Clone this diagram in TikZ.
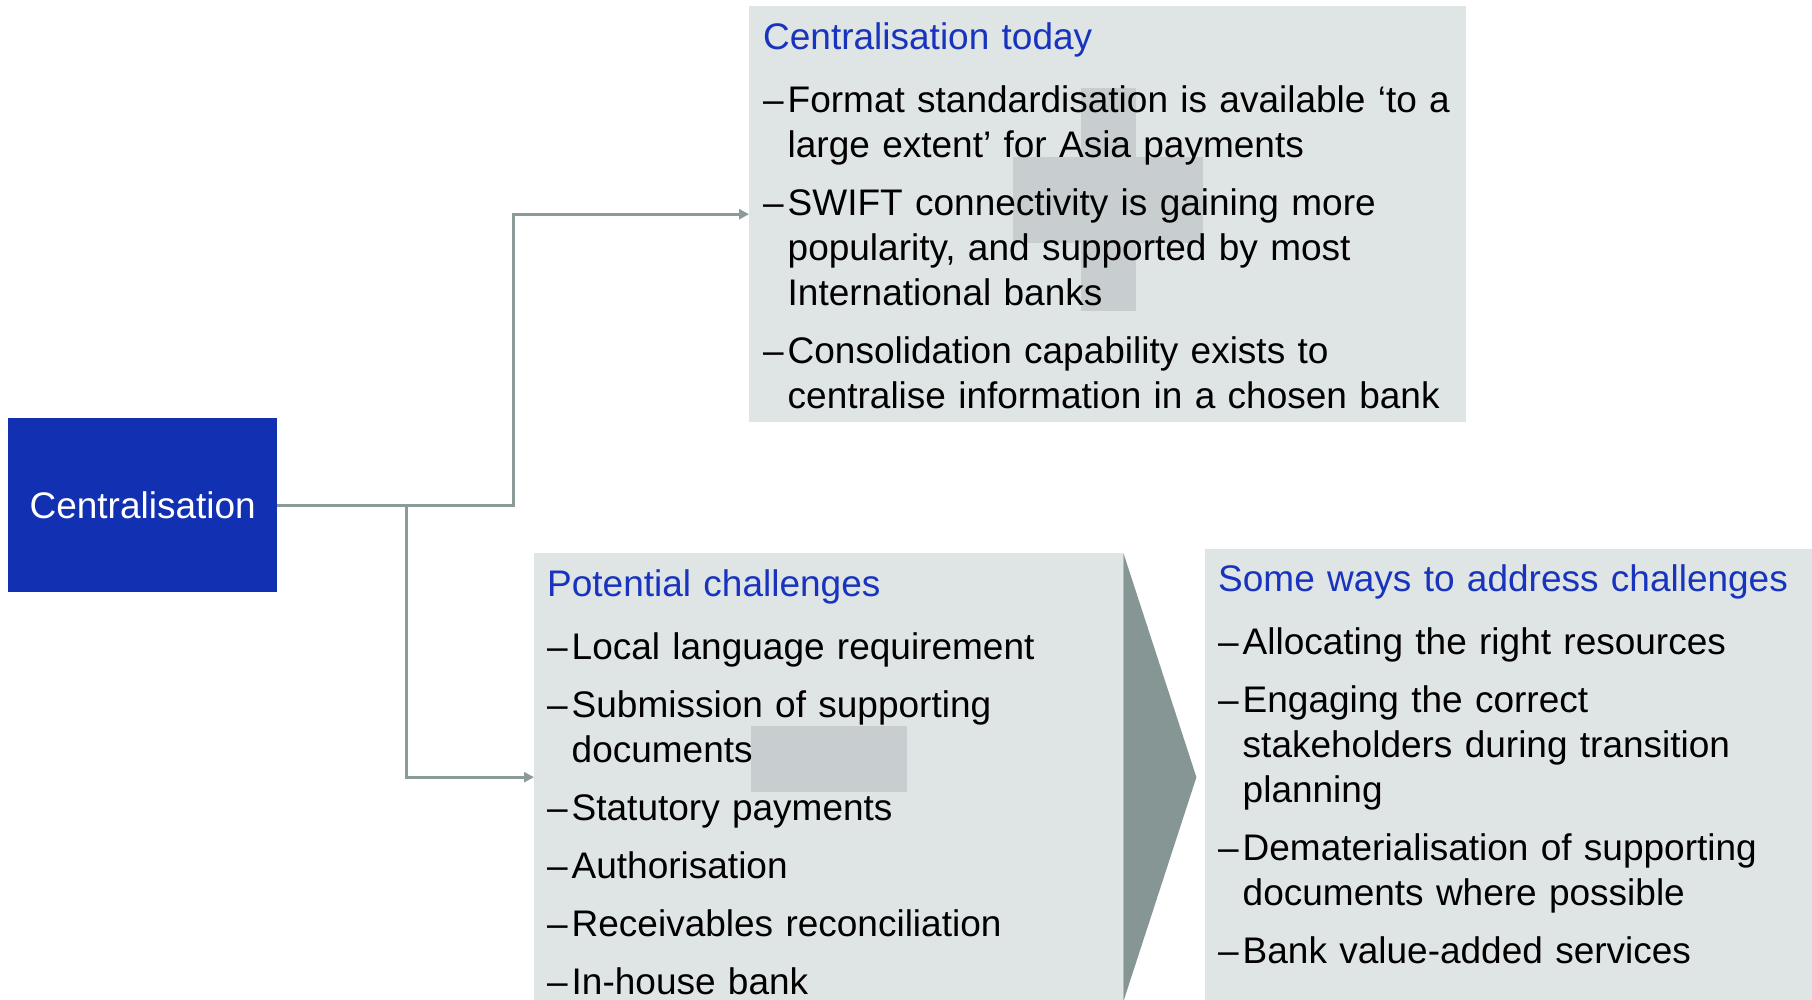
\documentclass[tikz,border=0pt]{standalone}
\usepackage{fontspec}
\setmainfont{Liberation Sans}
\usetikzlibrary{arrows.meta}
\definecolor{panelgray}{RGB}{223,228,228}
\definecolor{markgray}{RGB}{200,205,207}
\definecolor{chevgray}{RGB}{133,150,148}
\definecolor{linegray}{RGB}{138,155,153}
\definecolor{boxblue}{RGB}{18,49,178}
\definecolor{headblue}{RGB}{24,52,190}
\newcommand{\boxhead}[1]{\noindent{\color{headblue}#1}\par\vspace{5pt}}
\newcommand{\dashitem}[1]{\par\vspace{13pt}\hangindent=24.5pt\hangafter=1\noindent\makebox[24.5pt][l]{–}#1}

\begin{document}
\begin{tikzpicture}[x=1pt, y=-1pt,
		panel/.style = {fill=panelgray, inner sep=0pt, anchor=north west},
		body/.style = {inner sep=0pt, anchor=base west, font=\fontsize{37pt}{45pt}\selectfont},
		link/.style = {draw=linegray, line width=2.7pt, -{Triangle[length=10pt, width=10pt]}}]
	\useasboundingbox (0,0) rectangle (1812,999);
	% boxes
	\node[panel, fill=boxblue, anchor=north west, minimum width=269pt, minimum height=174pt,
		text=white, font=\fontsize{37pt}{45pt}\selectfont] (central) at (8,418) {Centralisation};
	\node[panel, minimum width=717pt, minimum height=416pt] (today) at (749,6) {};
	\node[panel, minimum width=589pt, minimum height=448pt] (challenge) at (534,553) {};
	\node[panel, minimum width=610pt, minimum height=452pt] (ways) at (1205,549) {};
	% grey patches behind the text
	\fill[markgray] (1081,88) rectangle (1136,311);
	\fill[markgray] (1013,157) rectangle (1203,243);
	\fill[markgray] (751,726) rectangle (907,792);
	\fill[chevgray] (challenge.north east) -- ([xshift=73pt]challenge.east) -- (challenge.south east) -- cycle;
	% texts
	\node[body, text width=700pt] (todaytext) at (763,49) {\boxhead{Centralisation today}
		\dashitem{Format standardisation is available ‘to a\newline large extent’ for Asia payments}
		\dashitem{SWIFT connectivity is gaining more\newline popularity, and supported by most\newline International banks}
		\dashitem{Consolidation capability exists to\newline centralise information in a chosen bank}\par};
	\node[body, text width=570pt] (challengetext) at (547,596) {\boxhead{Potential challenges}
		\dashitem{Local language requirement}
		\dashitem{Submission of supporting\newline documents}
		\dashitem{Statutory payments}
		\dashitem{Authorisation}
		\dashitem{Receivables reconciliation}
		\dashitem{In-house bank}\par};
	\node[body, text width=590pt] (waystext) at (1218,591) {\boxhead{Some ways to address challenges}
		\dashitem{Allocating the right resources}
		\dashitem{Engaging the correct\newline stakeholders during transition\newline planning}
		\dashitem{Dematerialisation of supporting\newline documents where possible}
		\dashitem{Bank value-added services}\par};
	% connectors
	\coordinate (split) at ([xshift=129pt]central.east);
	\draw[link] (central.east) -- ++(236,0) |- (today.west);
	\draw[link] (split) |- (challenge.west);
\end{tikzpicture}
\end{document}
